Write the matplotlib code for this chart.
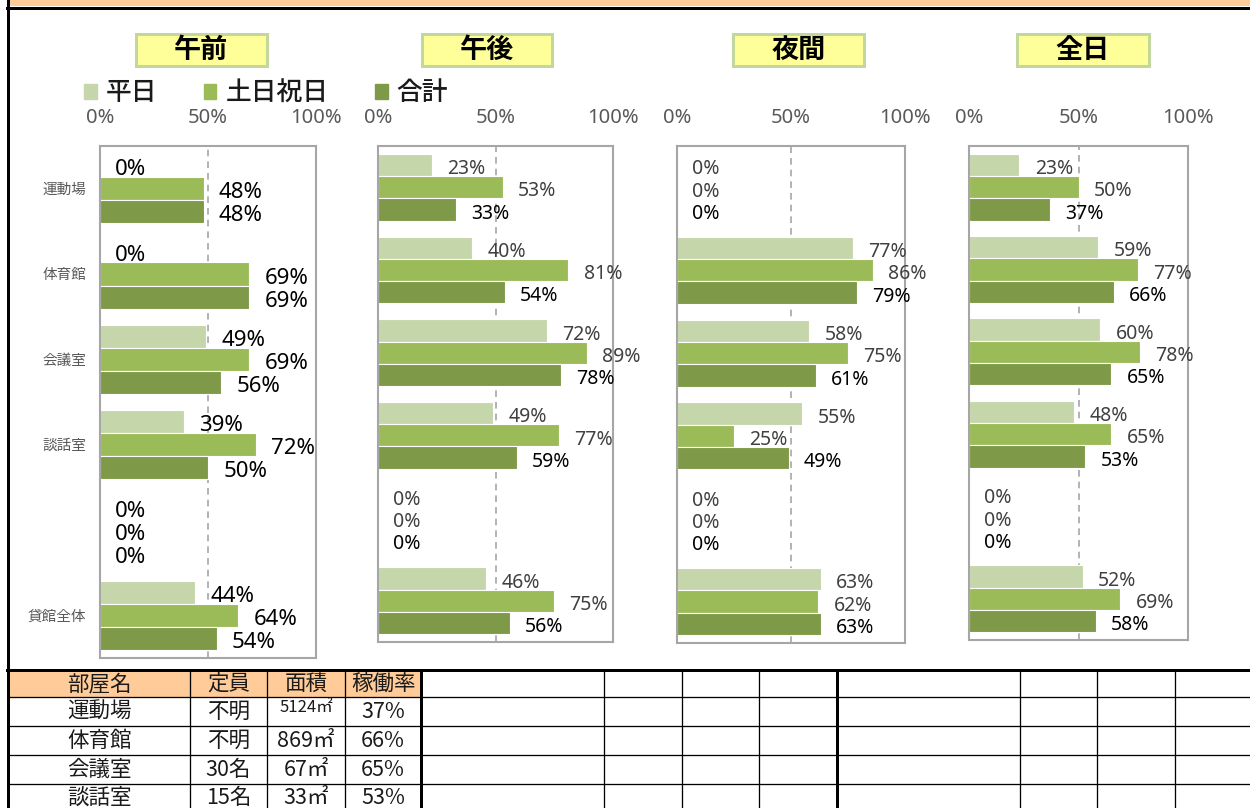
import matplotlib
matplotlib.use("Agg")
import matplotlib.pyplot as plt
from matplotlib.patches import Rectangle, Patch
import numpy as np

plt.rcParams["font.family"] = ["Noto Sans", "Noto Sans CJK JP", "DejaVu Sans"]

W, H = 1250, 808

# ---- data ----
categories = ["運動場", "体育館", "会議室", "談話室", "", "貸館全体"]
series = ["平日", "土日祝日", "合計"]
periods = ["午前", "午後", "夜間", "全日"]

am_weekday = [0, 0, 49, 39, 0, 44]
am_holiday = [48, 69, 69, 72, 0, 64]
am_total = [48, 69, 56, 50, 0, 54]
pm_weekday = [23, 40, 72, 49, 0, 46]
pm_holiday = [53, 81, 89, 77, 0, 75]
pm_total = [33, 54, 78, 59, 0, 56]
night_weekday = [0, 77, 58, 55, 0, 63]
night_holiday = [0, 86, 75, 25, 0, 62]
night_total = [0, 79, 61, 49, 0, 63]
day_weekday = [23, 59, 60, 48, 0, 52]
day_holiday = [50, 77, 78, 65, 0, 69]
day_total = [37, 66, 65, 53, 0, 58]

table_header = ["部屋名", "定員", "面積", "稼働率"]
room_names = ["運動場", "体育館", "会議室", "談話室"]
capacity = ["不明", "不明", "30名", "15名"]
area = ["5124㎡", "869㎡", "67㎡", "33㎡"]
rate = ["37%", "66%", "65%", "53%"]

panel_data = [
    [am_weekday, am_holiday, am_total],
    [pm_weekday, pm_holiday, pm_total],
    [night_weekday, night_holiday, night_total],
    [day_weekday, day_holiday, day_total],
]

colors = ["#C6D6AB", "#9BBB59", "#7E9A49"]
panel_boxes = [(100, 146, 316, 658), (378, 146, 613, 642),
               (677, 146, 905, 643), (969, 146, 1188, 640)]
title_boxes = [(136, 267), (422, 552), (733, 864), (1017, 1149)]


def px(x0, y0, x1, y1):
    return [x0 / W, 1 - y1 / H, (x1 - x0) / W, (y1 - y0) / H]


def lw(p):
    return p * 0.72


fig = plt.figure(figsize=(W / 100, H / 100), dpi=100, facecolor="white")

# ---- sheet decorations ----
bg = fig.add_axes([0, 0, 1, 1])
bg.set_xlim(0, W)
bg.set_ylim(H, 0)
bg.axis("off")
bg.add_patch(Rectangle((9, 0), W - 9, 6, fc="#FFCC99", ec="none"))
bg.plot([7, W], [7.5, 7.5], color="black", lw=lw(3))
bg.plot([7.5, 7.5], [0, H], color="black", lw=lw(3))

# table
bg.add_patch(Rectangle((9, 671), 421 - 9, 26, fc="#FFCC99", ec="none"))
bg.plot([7, W], [669.5, 669.5], color="black", lw=lw(3))
for yy in [697, 726, 755, 784]:
    bg.plot([9, W], [yy, yy], color="black", lw=lw(1.3))
for xx in [190, 267, 345, 604, 682, 759, 1020, 1097, 1175]:
    bg.plot([xx, xx], [671, H], color="black", lw=lw(1.3))
for xx in [421, 837]:
    bg.plot([xx, xx], [671, H], color="black", lw=lw(3))

col_c = [99.5, 228.5, 306, 383]
row_c = [684, 712, 741, 770, 798]
tkw = dict(ha="center", va="center", fontsize=15.5, color="#1a1a1a",
           family=["Noto Sans CJK JP", "DejaVu Sans"])
for j, t in enumerate(table_header):
    bg.text(col_c[j], row_c[0], t, **tkw)
for i in range(len(room_names)):
    y = row_c[i + 1]
    bg.text(col_c[0], y, room_names[i], **tkw)
    bg.text(col_c[1], y, capacity[i], **tkw)
    if len(area[i]) > 4:
        bg.text(col_c[2], y - 4, area[i], **{**tkw, "fontsize": 12})
    else:
        bg.text(col_c[2], y, area[i], **tkw)
    bg.text(col_c[3], y, rate[i], **tkw)

# title boxes
for (x0, x1), name in zip(title_boxes, periods):
    bg.add_patch(Rectangle((x0, 34), x1 - x0, 32, fc="#FFFF99",
                           ec="#C3D69B", lw=lw(3)))
    bg.text((x0 + x1) / 2, 50, name, ha="center", va="center",
            fontsize=19.5, fontweight="bold", color="black",
            family=["Noto Sans CJK JP"])

# ---- bar panels ----
h = 0.27
y = np.arange(len(categories))
for p, (box, data) in enumerate(zip(panel_boxes, panel_data)):
    ax = fig.add_axes(px(*box))
    ax.axvline(50, color="#A6A6A6", ls=(0, (4, 3)), lw=1.2, zorder=0)
    for k, vals in enumerate(data):
        ax.barh(y + (k - 1) * h, vals, height=h, color=colors[k],
                edgecolor="white", linewidth=0.8, zorder=2)
        for yi, v in zip(y, vals):
            if p == 0:
                c, fs = "black", 16
            else:
                c, fs = ("black" if k == 2 else "#404040"), 14
            ax.annotate(f"{v}%", xy=(v, yi + (k - 1) * h), xytext=(11, -3),
                        textcoords="offset points", ha="left", va="center",
                        fontsize=fs, color=c, zorder=3)
    ax.set_xlim(0, 100)
    ax.set_ylim(len(categories) - 0.5, -0.5)
    ax.xaxis.tick_top()
    ax.set_xticks([0, 50, 100])
    ax.set_xticklabels(["0%", "50%", "100%"])
    ax.tick_params(axis="x", length=0, pad=13, labelsize=14.5,
                   labelcolor="#595959")
    if p == 0:
        ax.set_yticks(y)
        ax.set_yticklabels(categories, family=["Noto Sans CJK JP"])
        ax.tick_params(axis="y", length=0, pad=10, labelsize=10.5,
                       labelcolor="#595959")
    else:
        ax.set_yticks([])
    for s in ax.spines.values():
        s.set_color("#A6A6A6")
        s.set_linewidth(1.5)

handles = [Patch(color=c) for c in colors]
fig.legend(handles, series, loc="center left",
           bbox_to_anchor=(84 / W, 1 - 93 / H), ncol=3, frameon=False,
           handlelength=0.5, handleheight=0.5,
           handletextpad=0.35, columnspacing=1.8, borderpad=0,
           borderaxespad=0, labelcolor="#1a1a1a",
           prop={"family": ["Noto Sans CJK JP"], "size": 18.5,
                 "weight": "medium"})

fig.savefig("out.png", dpi=100, facecolor="white")
